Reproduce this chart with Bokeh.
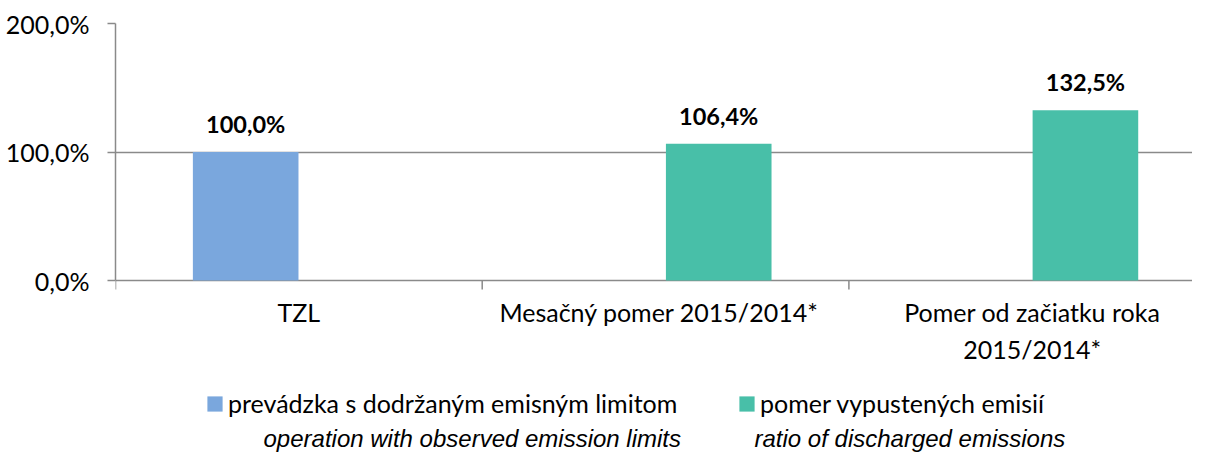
import numpy as np
from bokeh.plotting import figure
from bokeh.models import (ColumnDataSource, FixedTicker, Legend, LegendItem,
                          Label, Range1d)
from bokeh.transform import dodge
from bokeh.core.properties import value
from bokeh.embed import file_html
from bokeh.resources import INLINE

# ---------------- data ----------------
categories = ["TZL", "Mesačný pomer   2015/2014*", "Pomer od začiatku roka\n2015/2014*"]
limit_series = np.array([100.0, np.nan, np.nan])   # prevádzka s dodržaným emisným limitom
ratio_series = np.array([np.nan, 106.4, 132.5])    # pomer vypustených emisií
series_names = ["prevádzka s dodržaným emisným limitom", "pomer vypustených emisií"]
notes_en = ["operation with observed emission limits", "ratio of discharged emissions"]
y_ticks = [0, 100, 200]
y_tick_labels = ["0,0%", "100,0%", "200,0%"]


def fmt(v):
    return "" if np.isnan(v) else f"{v:.1f}%".replace(".", ",")


n = len(categories)
centers = [i + 0.5 for i in range(n)]
boundaries = list(range(n))
src = ColumnDataSource(dict(
    x=centers,
    cat=categories,
    limit=limit_series,
    ratio=ratio_series,
    limit_lbl=[fmt(v) for v in limit_series],
    ratio_lbl=[fmt(v) for v in ratio_series],
))

# ---------------- layout / style ----------------
W_FIG, H_FIG = 1192, 453
LEFT, TOP = 115, 23            # frame left / top (px)
AXIS_Y = 280                   # pixel row of 0 %
CAT_PX = 366.7                 # width of one category (px)
Y_MAX = 200
px_per_unit = (AXIS_Y - TOP) / Y_MAX
frame_h = H_FIG - TOP
frame_w = W_FIG - LEFT
y_start = Y_MAX - frame_h / px_per_unit
x_end = frame_w / CAT_PX

BLUE = "#7AA7DD"
GREEN = "#48BFA8"
GREY = "#8A8A8A"
FONT = "Lato"
FS = "25px"

p = figure(width=W_FIG, height=H_FIG, output_backend="svg", toolbar_location=None,
           x_range=Range1d(0, x_end), y_range=Range1d(y_start, Y_MAX),
           x_axis_location=None,
           min_border_left=LEFT, min_border_right=0, min_border_top=TOP,
           min_border_bottom=0)
p.outline_line_color = None
p.background_fill_color = "white"
p.border_fill_color = "white"
p.xgrid.visible = False

# grid (line at 0 acts as the category axis line)
p.ygrid.ticker = FixedTicker(ticks=y_ticks)
p.ygrid.grid_line_color = GREY
p.ygrid.grid_line_width = 1.4

# category boundary tick marks below the axis
TICK_PX = 9
p.segment(x0=boundaries, y0=[0] * n, x1=boundaries, y1=[-TICK_PX / px_per_unit] * n,
          line_color=GREY, line_width=1.5)

# bars
W = 0.288
D = 0.145
b1 = p.vbar(x=dodge("x", -D, range=p.x_range), top="limit", width=W, source=src,
            fill_color=BLUE, line_color=BLUE, line_width=0)
b2 = p.vbar(x=dodge("x", D, range=p.x_range), top="ratio", width=W, source=src,
            fill_color=GREEN, line_color=GREEN, line_width=0)

# data labels
for col, lbl, off in (("limit", "limit_lbl", -D), ("ratio", "ratio_lbl", D)):
    p.text(x=dodge("x", off, range=p.x_range), y=col, text=lbl, source=src,
           text_font=value(FONT), text_font_style="bold", text_font_size="23.5px",
           text_color="#000000", text_align="center", text_baseline="alphabetic",
           y_offset=-28)

# category labels
p.text(x="x", y=0, text="cat", source=src, text_font=value(FONT),
       text_font_size=FS, text_color="#000000", text_align="center",
       text_baseline="top", text_line_height=1.25, y_offset=16)

# y axis
ya = p.yaxis[0]
ya.ticker = FixedTicker(ticks=y_ticks)
ya.bounds = (0, Y_MAX)
ya.major_label_overrides = {t: l for t, l in zip(y_ticks, y_tick_labels)}
ya.axis_line_color = GREY
ya.axis_line_width = 1.5
ya.major_tick_line_color = GREY
ya.major_tick_line_width = 1.5
ya.major_tick_out = 8
ya.major_tick_in = 0
ya.minor_tick_line_color = None
ya.major_label_standoff = 18
ya.major_label_text_font = FONT
ya.major_label_text_font_size = FS
ya.major_label_text_color = "#000000"


# legends
def make_legend(name, rend, loc):
    leg = Legend(items=[LegendItem(label=name, renderers=[rend])], location=loc,
                 orientation="horizontal", glyph_width=19, glyph_height=19,
                 label_standoff=4, padding=0, margin=0, spacing=0,
                 border_line_color=None, background_fill_alpha=0,
                 label_text_font=FONT, label_text_font_size=FS,
                 label_text_color="#000000")
    p.add_layout(leg)


make_legend(series_names[0], b1, (90, 35))
make_legend(series_names[1], b2, (622, 35))

# English notes
for txt, xx in zip(notes_en, (148, 639)):
    p.add_layout(Label(x=xx, y=15, x_units="screen", y_units="screen", text=txt,
                       text_font="Liberation Sans", text_font_style="italic",
                       text_font_size="24px", text_color="#000000",
                       text_baseline="alphabetic"))

open("out.html", "w").write(file_html(p, INLINE))
